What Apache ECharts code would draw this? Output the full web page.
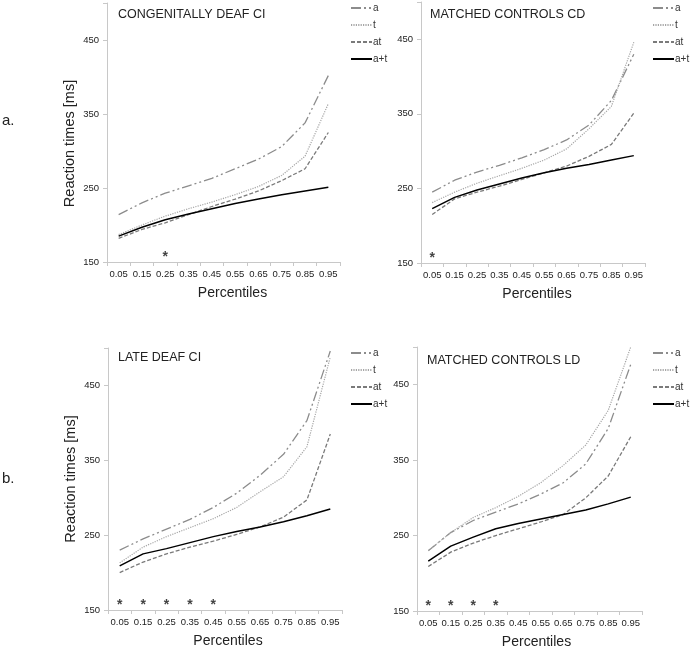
<!DOCTYPE html>
<html><head><meta charset="utf-8">
<script src="https://cdn.jsdelivr.net/npm/echarts@6/dist/echarts.min.js"></script>
<style>html,body{margin:0;padding:0;background:#fff}#c{width:695px;height:651px}</style>
</head><body><div id="c"></div>
<script>
const percentiles = ['0.05','0.15','0.25','0.35','0.45','0.55','0.65','0.75','0.85','0.95'];
const seriesNames = ['a','t','at','a+t'];
const panelTitles = ['CONGENITALLY DEAF CI','MATCHED CONTROLS CD','LATE DEAF CI','MATCHED CONTROLS LD'];

// Panel 1: congenitally deaf CI
const cdci_a  = [214, 230, 243, 253, 263, 276, 289, 306, 338, 402];
const cdci_t  = [187, 200, 212, 222, 231, 241, 252, 267, 293, 364];
const cdci_at = [182, 194, 203, 214, 225, 235, 246, 260, 276, 325];
const cdci_ap = [185, 197, 207, 215, 222, 229, 235, 241, 246, 251];
const cdci_stars = ['0.25'];

// Panel 2: matched controls CD
const mcd_a  = [245, 261, 272, 281, 291, 302, 315, 335, 368, 430];
const mcd_t  = [231, 245, 257, 267, 277, 288, 303, 330, 360, 446];
const mcd_at = [215, 236, 245, 253, 262, 271, 280, 293, 309, 351];
const mcd_ap = [223, 238, 248, 256, 264, 271, 277, 282, 288, 294];
const mcd_stars = ['0.05'];

// Panel 3: late deaf CI
const ldci_a  = [230, 245, 258, 271, 287, 306, 330, 358, 403, 496];
const ldci_t  = [213, 234, 248, 260, 272, 287, 308, 328, 368, 488];
const ldci_at = [200, 214, 225, 234, 242, 251, 261, 274, 297, 385];
const ldci_ap = [209, 225, 232, 240, 248, 255, 261, 268, 276, 285];
const ldci_stars = ['0.05','0.15','0.25','0.35','0.45'];

// Panel 4: matched controls LD
const mld_a  = [230, 254, 270, 281, 292, 305, 320, 345, 392, 477];
const mld_t  = [230, 254, 274, 287, 302, 320, 343, 370, 416, 500];
const mld_at = [209, 228, 240, 250, 259, 268, 278, 300, 329, 381];
const mld_ap = [216, 236, 248, 259, 266, 272, 278, 284, 292, 301];
const mld_stars = ['0.05','0.15','0.25','0.35'];

const starLevel = 161;
const yTicks = {min: 150, max: 500, interval: 100};

const panels = [
  {data:[cdci_a,cdci_t,cdci_at,cdci_ap], stars:cdci_stars},
  {data:[mcd_a,mcd_t,mcd_at,mcd_ap], stars:mcd_stars},
  {data:[ldci_a,ldci_t,ldci_at,ldci_ap], stars:ldci_stars},
  {data:[mld_a,mld_t,mld_at,mld_ap], stars:mld_stars}
];

const grids = [
  {left:107, top:3, width:233, height:259},
  {left:421, top:2, width:224, height:261},
  {left:108, top:348, width:234, height:262},
  {left:417, top:347, width:225, height:264}
];
const titlePos = [{left:118, top:8},{left:430, top:8},{left:118, top:351},{left:427, top:354}];
const legendPos = [
  {left:350, top:3},{left:652, top:3},{left:350, top:348},{left:652, top:348}
];
const xNameShift = [9, 4, 3, 7];
const yNamePad = [[0,22,0,0], 0, 0, 0];
const lineStyles = [
  {color:'#8c8c8c', width:1.3, type:[10,3,2,3,2,3]},
  {color:'#a6a6a6', width:1.2, type:[1.2,1.2]},
  {color:'#7a7a7a', width:1.3, type:[4,2]},
  {color:'#000000', width:1.5, type:'solid'}
];
const FONT = 'Liberation Sans, Arial, sans-serif';
const axisColor = '#c8c8c8';

const option = {
  animation:false,
  backgroundColor:'#fff',
  textStyle:{fontFamily:FONT},
  title: panelTitles.map((t,i)=>({
    text:t, left:titlePos[i].left, top:titlePos[i].top, padding:0,
    textStyle:{fontFamily:FONT, fontSize:12.5, fontWeight:'normal', color:'#222'}
  })).concat([
    {text:'a.', left:2, top:113, padding:0, textStyle:{fontFamily:FONT, fontSize:15, fontWeight:'normal', color:'#222'}},
    {text:'b.', left:2, top:471, padding:0, textStyle:{fontFamily:FONT, fontSize:15, fontWeight:'normal', color:'#222'}}
  ]),
  legend: legendPos.map(p=>({
    data:seriesNames, orient:'vertical', left:p.left, top:p.top,
    itemWidth:21, itemHeight:10, itemGap:7, padding:0,
    itemStyle:{opacity:0},
    textStyle:{fontFamily:FONT, fontSize:10, color:'#333', padding:[0,0,0,-4]},
    selectedMode:false
  })),
  grid: grids,
  xAxis: grids.map((g,i)=>({
    type:'category', gridIndex:i, data:percentiles, boundaryGap:true,
    name:'Percentiles', nameLocation:'middle', nameGap:24,
    nameTextStyle:{fontFamily:FONT, fontSize:14, color:'#222', padding:[0,0,0,2*xNameShift[i]]},
    axisLine:{lineStyle:{color:axisColor}},
    axisTick:{show:true, length:4, lineStyle:{color:axisColor}},
    axisLabel:{interval:0, fontSize:9.5, color:'#222', margin:7, fontFamily:FONT},
    splitLine:{show:false}
  })),
  yAxis: grids.map((g,i)=>({
    type:'value', gridIndex:i, min:yTicks.min, max:yTicks.max, interval:yTicks.interval,
    name:(i%2===0)?'Reaction times [ms]':'', nameLocation:'middle', nameGap:30,
    nameTextStyle:{fontFamily:FONT, fontSize:14.5, color:'#222', padding:yNamePad[i]},
    axisLine:{show:true, lineStyle:{color:axisColor}},
    axisTick:{show:true, length:4, lineStyle:{color:axisColor}},
    axisLabel:{fontSize:9.5, color:'#222', margin:8, fontFamily:FONT,
      formatter:v=> v===yTicks.max ? '' : String(v)},
    splitLine:{show:false}
  })),
  series: []
};

panels.forEach((p,i)=>{
  p.data.forEach((arr,k)=>{
    option.series.push({
      type:'line', name:seriesNames[k], xAxisIndex:i, yAxisIndex:i,
      data:arr, symbol:'none', lineStyle:lineStyles[k], itemStyle:{color:lineStyles[k].color},
      z: k===3?3:2, clip:true
    });
  });
  option.series.push({
    type:'scatter', name:'sig', xAxisIndex:i, yAxisIndex:i,
    data:p.stars.map(c=>[c, starLevel]), symbol:'circle', symbolSize:2,
    itemStyle:{color:'rgba(0,0,0,0)'},
    label:{show:true, formatter:'*', position:'inside', fontSize:14, fontWeight:'bold', color:'#111', fontFamily:FONT, offset:[0,3]},
    silent:true
  });
});

const chart = echarts.init(document.getElementById('c'), null, {renderer:'canvas'});
chart.setOption(option);
</script></body></html>
